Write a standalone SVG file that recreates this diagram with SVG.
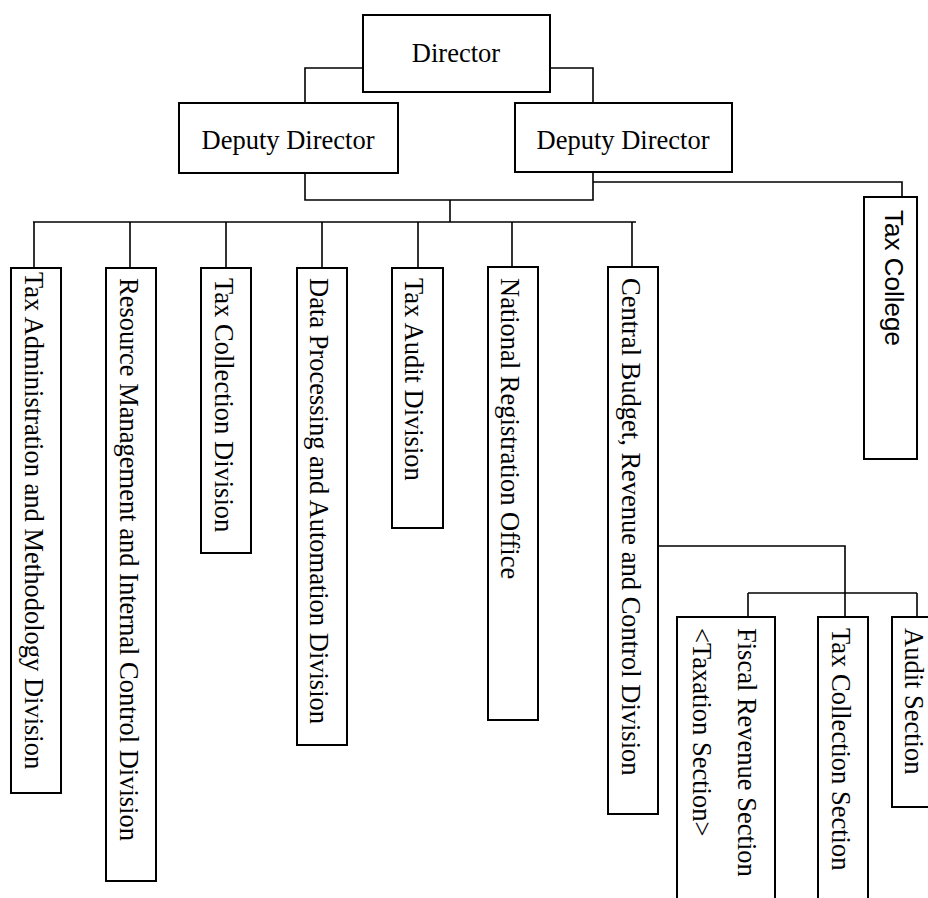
<svg xmlns="http://www.w3.org/2000/svg" width="928" height="898" viewBox="0 0 928 898">
<style>
.box{fill:#fff;stroke:#000;stroke-width:2}
.ln{fill:none;stroke:#000;stroke-width:1.6}
.t{font-family:"Liberation Serif","Times New Roman",serif;font-size:26.5px;fill:#000}
.s{font-family:"Liberation Sans",Arial,sans-serif;font-size:26px;fill:#000}
</style>
<rect width="928" height="898" fill="#fff"/>
<g id="connectors">
<polyline class="ln" points="363,68 305,68 305,103"/>
<polyline class="ln" points="550,68 593,68 593,103"/>
<polyline class="ln" points="305,173 305,200 593,200 593,172"/>
<polyline class="ln" points="593,182 902,182 902,197"/>
<line class="ln" x1="450" y1="200" x2="450" y2="222"/>
<line class="ln" x1="33" y1="222" x2="636" y2="222"/>
<line class="ln" x1="34" y1="222" x2="34" y2="268"/>
<line class="ln" x1="130" y1="222" x2="130" y2="268"/>
<line class="ln" x1="226" y1="222" x2="226" y2="268"/>
<line class="ln" x1="322" y1="222" x2="322" y2="268"/>
<line class="ln" x1="418" y1="222" x2="418" y2="268"/>
<line class="ln" x1="512" y1="222" x2="512" y2="267"/>
<line class="ln" x1="632" y1="222" x2="632" y2="267"/>
<polyline class="ln" points="658,546 845,546 845,617"/>
<line class="ln" x1="748" y1="593" x2="917" y2="593"/>
<line class="ln" x1="748" y1="593" x2="748" y2="617"/>
<line class="ln" x1="917" y1="593" x2="917" y2="617"/>
</g>
<g id="director"><rect class="box" x="363" y="15" width="187" height="77"/><text class="t" x="456" y="62" text-anchor="middle">Director</text></g>
<g id="deputy1"><rect class="box" x="179" y="103" width="219" height="70"/><text class="t" x="288" y="149" text-anchor="middle">Deputy Director</text></g>
<g id="deputy2"><rect class="box" x="515" y="103" width="217" height="69"/><text class="t" x="623" y="149" text-anchor="middle">Deputy Director</text></g>
<g id="taxadmin"><rect class="box" x="11" y="268" width="50" height="525"/><text class="t" transform="translate(25,272) rotate(90)">Tax Administration and Methodology Division</text></g>
<g id="resource"><rect class="box" x="106" y="268" width="50" height="613"/><text class="t" transform="translate(120,278) rotate(90)">Resource Management and Internal Control Division</text></g>
<g id="taxcollection"><rect class="box" x="201" y="268" width="50" height="285"/><text class="t" transform="translate(215,278) rotate(90)">Tax Collection Division</text></g>
<g id="dataproc"><rect class="box" x="297" y="268" width="50" height="477"/><text class="t" transform="translate(310,278) rotate(90)">Data Processing and Automation Division</text></g>
<g id="taxaudit"><rect class="box" x="392" y="268" width="51" height="260"/><text class="t" transform="translate(405,278) rotate(90)">Tax Audit Division</text></g>
<g id="national"><rect class="box" x="488" y="267" width="50" height="453"/><text class="t" transform="translate(501,278) rotate(90)">National Registration Office</text></g>
<g id="central"><rect class="box" x="608" y="267" width="50" height="547"/><text class="t" transform="translate(622,278) rotate(90)">Central Budget, Revenue and Control Division</text></g>
<g id="taxcollege"><rect class="box" x="864" y="197" width="53" height="262"/><text class="s" transform="translate(885,210) rotate(90)">Tax College</text></g>
<g id="fiscal"><rect class="box" x="677" y="617" width="98" height="300"/><text class="t" transform="translate(738,628) rotate(90)">Fiscal Revenue Section</text><text class="t" transform="translate(693,628) rotate(90)">&lt;Taxation Section&gt;</text></g>
<g id="taxcollsec"><rect class="box" x="818" y="617" width="50" height="300"/><text class="t" transform="translate(832,628) rotate(90)">Tax Collection Section</text></g>
<g id="auditsec"><rect class="box" x="892" y="617" width="50" height="190"/><text class="t" transform="translate(905,628) rotate(90)">Audit Section</text></g>
</svg>
